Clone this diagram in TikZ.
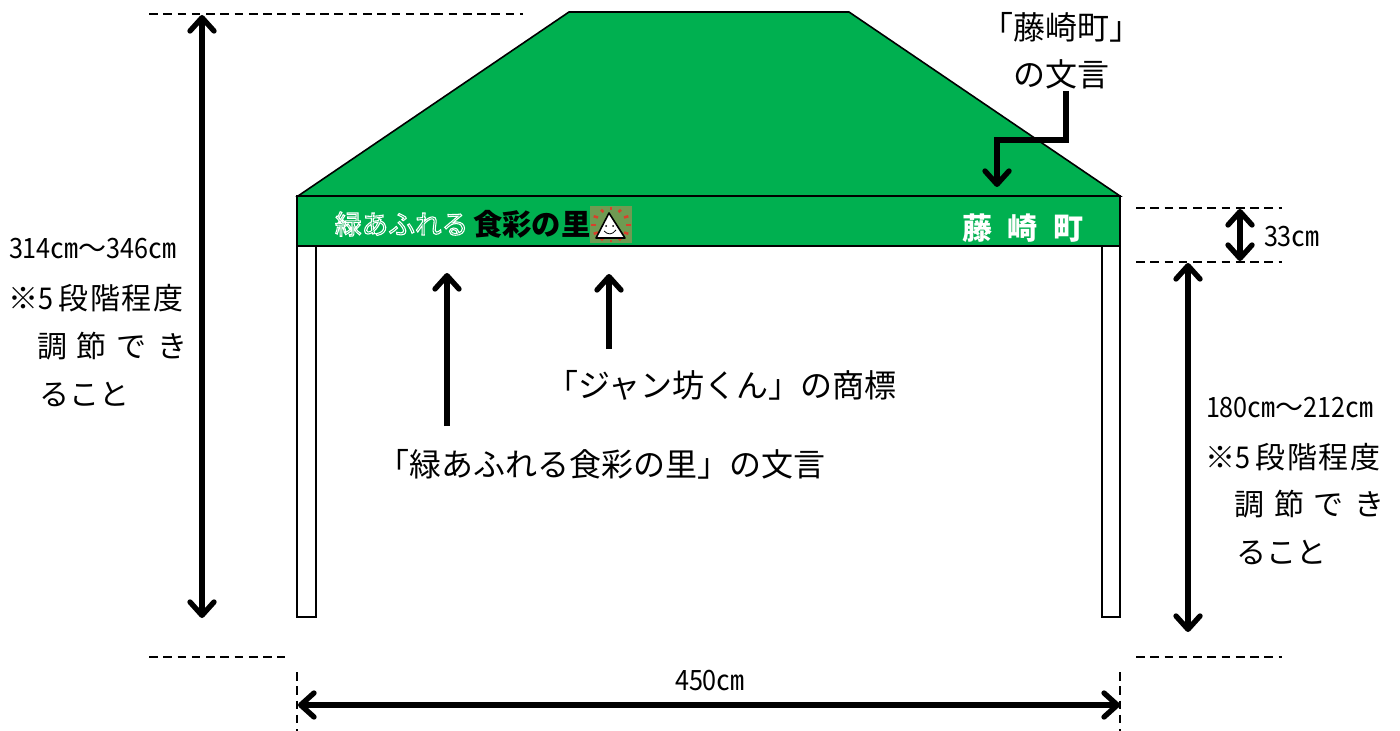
\documentclass[tikz,border=0pt]{standalone}
\usepackage{graphicx}
\usepackage{fontspec}
\setmainfont{Noto Sans CJK JP}
\usetikzlibrary{arrows.meta}
\definecolor{tentgreen}{HTML}{00B050}
\definecolor{logobg}{HTML}{6F9A52}
\definecolor{logoray}{HTML}{D9402B}
\newcommand{\nar}[1]{\scalebox{0.9}[1]{#1}}
\newcommand{\rangefont}{\fontsize{21}{21}\selectfont}
\newcommand{\labfont}{\fontsize{24}{24}\selectfont}
\newcommand{\notefont}{\fontsize{22.5}{22.5}\selectfont}
\newcommand{\stepnote}{※\nar{5}\kern4.5pt 段\kern1.1pt 階\kern1.1pt 程\kern1.1pt 度}
\tikzset{
  dim/.style={line width=4pt,{Straight Barb[length=10pt,width=18pt,round]}-{Straight Barb[length=10pt,width=18pt,round]}},
  lead/.style={line width=4pt,-{Straight Barb[length=10pt,width=18pt,round]}},
  guide/.style={line width=1.2pt,dash pattern=on 6.5pt off 4.2pt},
  lab/.style={inner sep=0pt,outer sep=0pt},
  outline/.style={draw=black,line width=1.2pt},
}
\begin{document}
\begin{tikzpicture}[x=0.75pt,y=-0.75pt]
\useasboundingbox (0,0) rectangle (1400,731);
% canopy
\filldraw[outline,fill=tentgreen] (298,196) -- (569,12) -- (849,12) -- (1120,196) -- cycle;
\draw[outline,fill=white] (297,246) rectangle (316,617);
\draw[outline,fill=white] (1102,246) rectangle (1120,617);
\filldraw[outline,fill=tentgreen,line width=1.6pt] (297,196) rectangle (1120,246);
% logo
\node[lab,anchor=west,text=white] (slogana) at (335,224) {\fontsize{20}{20}\selectfont\special{pdf:code q 1 Tr 0.8 w 1 1 1 RG}緑あふれる\special{pdf:code Q}};
\node[lab,anchor=west,text=black] (sloganb) at (473,224) {\fontsize{22}{22}\selectfont\bfseries 食彩の里};
\fill[logobg] (590,206) rectangle (632,243);
\foreach \a in {0,30,...,330}{
  \draw[logoray,line width=1.9pt] ({611+15*cos(\a)},{225+15*sin(\a)}) -- ({611+20*cos(\a)},{225+17.5*sin(\a)});
}
\filldraw[draw=black,fill=white,line width=1.2pt,line join=round] (609,213) -- (625,238) -- (596,238) -- cycle;
\fill (606,226) circle (1) (613,226) circle (1);
\draw[line width=0.6pt] (604,231) .. controls (608,235) and (612,235) .. (616,230);
\node[lab,text=white] (town) at (1023,228) {\fontsize{22.5}{22.5}\selectfont\bfseries 藤\kern12pt 崎\kern12pt 町};
% guides
\coordinate (g1a) at (149,14); \coordinate (g1b) at (523,14);
\coordinate (g2a) at (149,657); \coordinate (g2b) at (285,657);
\coordinate (g3a) at (1136,657); \coordinate (g3b) at (1282,657);
\coordinate (g4a) at (1136,208); \coordinate (g4b) at (1282,208);
\coordinate (g5a) at (1136,262); \coordinate (g5b) at (1282,262);
\coordinate (g6a) at (297,672); \coordinate (g6b) at (297,731);
\coordinate (g7a) at (1120,672); \coordinate (g7b) at (1120,731);
\foreach \p in {g1,g2,g3,g4,g5,g6,g7}{\draw[guide] (\p a) -- (\p b);}
% texts
\node[lab,anchor=west] (h1) at (9,249) {\rangefont\nar{314}㎝～\nar{346}㎝};
\node[lab,anchor=west] (h2) at (8,298) {\notefont\stepnote};
\node[lab,anchor=west] (h3) at (37,346) {\notefont 調\kern7.5pt 節\kern7.5pt で\kern7.5pt き};
\node[lab,anchor=west] (h4) at (39,394) {\notefont ること};
\node[lab,anchor=west] (r1) at (1206,408) {\rangefont\nar{180}㎝～\nar{212}㎝};
\node[lab,anchor=west] (r2) at (1205,457) {\notefont\stepnote};
\node[lab,anchor=west] (r3) at (1234,504) {\notefont 調\kern7.5pt 節\kern7.5pt で\kern7.5pt き};
\node[lab,anchor=west] (r4) at (1236,552) {\notefont ること};
\node[lab] (w) at (710,681) {\rangefont\nar{450}㎝};
\node[lab,anchor=west] (t33) at (1264,237) {\rangefont\nar{33}㎝};
\node[lab] (q1) at (1061,27) {\labfont 「藤崎町」};
\node[lab] (q2) at (1061,74) {\labfont の文言};
\node[lab,anchor=west] (l1) at (546,385) {\labfont 「ジャン坊くん」の商標};
\node[lab,anchor=west] (l2) at (377,464) {\labfont 「緑あふれる食彩の里」の文言};
% arrows
\coordinate (a1a) at (202,15); \coordinate (a1b) at (202,618);
\coordinate (a2a) at (1188,263); \coordinate (a2b) at (1188,632);
\coordinate (a3a) at (1240,209); \coordinate (a3b) at (1240,261);
\coordinate (a4a) at (298,705); \coordinate (a4b) at (1120,705);
\foreach \p in {a1,a2,a3,a4}{\draw[dim] (\p a) -- (\p b);}
\draw[lead] (447,426) -- (447,273);
\draw[lead] (609,349) -- (609,274);
\draw[lead,line join=miter] (1066,91) -- (1066,140) -- (997,140) -- (997,187);
\end{tikzpicture}
\end{document}
